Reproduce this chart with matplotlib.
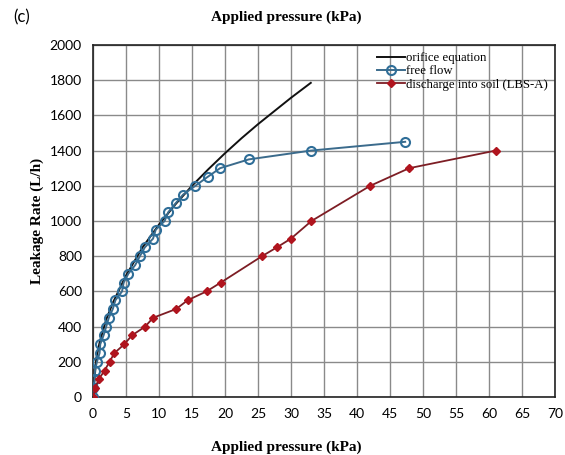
import matplotlib
matplotlib.use("Agg")
import matplotlib.pyplot as plt

# Orifice equation curve
orifice_p = [0, 0.5, 1, 2, 3, 5, 7.5, 10, 12.5, 15, 17.5, 20, 22.5, 25, 27.5, 30, 33]
orifice_q = [0, 220, 310, 440, 535, 690, 850, 980, 1095, 1200, 1295, 1385, 1470, 1550, 1625, 1700, 1785]

# Free flow
free_p = [0, 0.05, 0.25, 0.3, 0.6, 1.0, 1.1, 1.6, 2.0, 2.4, 3.0, 3.4, 4.4, 4.65, 5.35, 6.4, 7.1,
          7.85, 9.1, 9.5, 10.85, 11.4, 12.5, 13.65, 15.5, 17.35, 19.25, 23.6, 33.0, 47.3]
free_q = [0, 50, 100, 150, 200, 250, 300, 350, 400, 450, 500, 550, 600, 650, 700, 750, 800,
          850, 900, 950, 1000, 1050, 1100, 1150, 1200, 1250, 1300, 1350, 1400, 1450]

# Discharge into soil (LBS-A)
soil_p = [0, 0.35, 0.85, 1.75, 2.5, 3.25, 4.75, 5.9, 7.9, 9.1, 12.6, 14.35, 17.2, 19.35,
          25.6, 27.85, 30.0, 33.1, 42.0, 47.9, 61.0]
soil_q = [0, 50, 100, 150, 200, 250, 300, 350, 400, 450, 500, 550, 600, 650,
          800, 850, 900, 1000, 1200, 1300, 1400]

x_ticks = list(range(0, 71, 5))
y_ticks = list(range(0, 2001, 200))

fig = plt.figure(figsize=(5.65, 4.55), dpi=100)
ax = fig.add_axes([93 / 565, 58 / 455, 462 / 565, 352 / 455])

ax.plot(orifice_p, orifice_q, color="#111111", lw=1.4, label="orifice equation", zorder=3)
ax.plot(free_p, free_q, color="#3b6b8c", lw=1.4, marker="o", ms=6.5, mfc="none",
        mec="#2f6e98", mew=1.5, label="free flow", zorder=4)
ax.plot(soil_p, soil_q, color="#7d1d24", lw=1.3, marker="D", ms=4, mfc="#b0141e",
        mec="#b0141e", label="discharge into soil (LBS-A)", zorder=5)

ax.set_xlim(0, 70)
ax.set_ylim(0, 2000)
ax.set_xticks(x_ticks)
ax.set_yticks(y_ticks)
ax.grid(True, color="#8a8a8a", lw=1.0)
ax.set_axisbelow(True)
ax.tick_params(length=0, labelsize=10, pad=8)
for lab in ax.get_xticklabels() + ax.get_yticklabels():
    lab.set_fontfamily("Lato")
for s in ax.spines.values():
    s.set_color("#222222")
    s.set_linewidth(1.2)

leg = ax.legend(loc="upper right", bbox_to_anchor=(1.0, 1.0), frameon=False,
                prop={"family": "Liberation Serif", "size": 9.2},
                handlelength=2.2, handletextpad=0.1, labelspacing=0.1, borderaxespad=0.15)

fig.text(286 / 565, 1 - 17 / 455, "Applied pressure (kPa)", ha="center", va="center",
         fontfamily="Liberation Serif", fontweight="bold", fontsize=11)
fig.text(286 / 565, 1 - 447 / 455, "Applied pressure (kPa)", ha="center", va="center",
         fontfamily="Liberation Serif", fontweight="bold", fontsize=11)
fig.text(37 / 565, 1 - 221 / 455, "Leakage Rate (L/h)", ha="center", va="center", rotation=90,
         fontfamily="Liberation Serif", fontweight="bold", fontsize=11)
fig.text(22 / 565, 1 - 17 / 455, "(c)", ha="center", va="center", fontfamily="Lato", fontsize=12)

fig.savefig("out.png", dpi=100)
